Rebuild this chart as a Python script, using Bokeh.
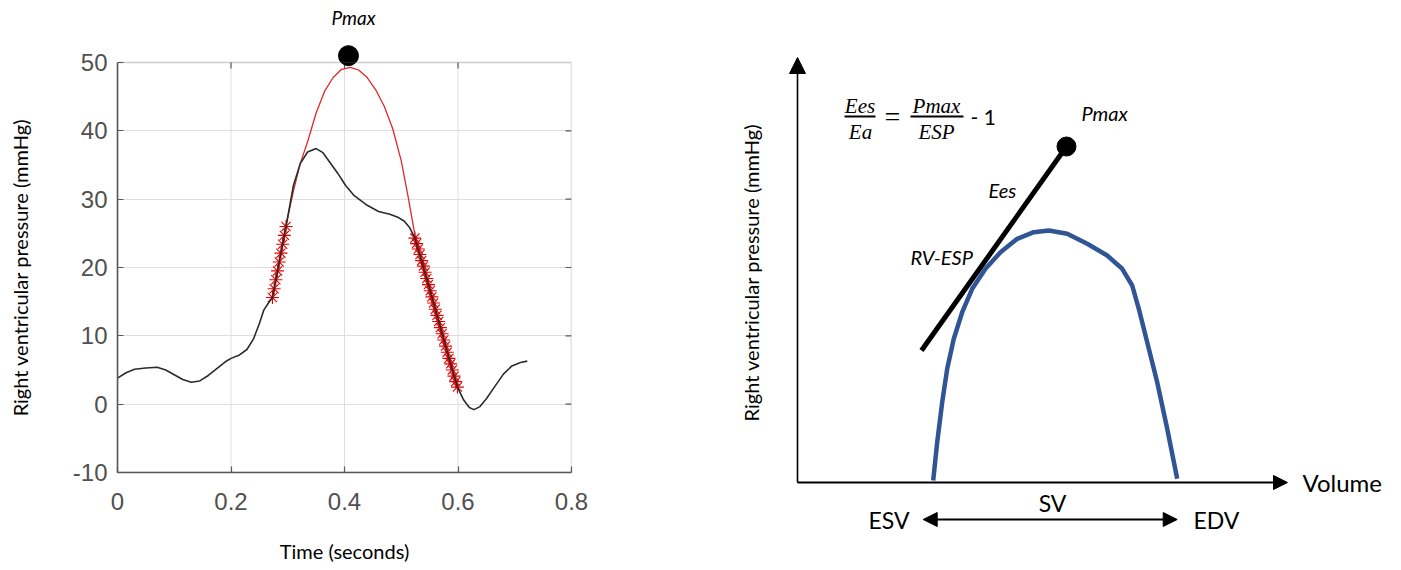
import math
from bokeh.plotting import figure
from bokeh.layouts import row
from bokeh.models import Range1d, FixedTicker, Arrow, NormalHead, BoxAnnotation
from bokeh.core.properties import value
from bokeh.embed import file_html
from bokeh.resources import INLINE

# ---------------- Left panel data (pressure trace) ----------------
time_s = [0.000, 0.015, 0.030, 0.050, 0.070, 0.085, 0.100, 0.115, 0.130, 0.145,
          0.160, 0.175, 0.190, 0.200, 0.215, 0.228, 0.240, 0.250, 0.258, 0.266,
          0.273, 0.285, 0.297, 0.310, 0.322, 0.335, 0.350, 0.362, 0.375, 0.388,
          0.402, 0.416, 0.440, 0.460, 0.480, 0.495, 0.505, 0.515, 0.524, 0.545,
          0.565, 0.585, 0.599, 0.610, 0.620, 0.628, 0.638, 0.650, 0.665, 0.680,
          0.695, 0.710, 0.722]
pressure = [3.8, 4.6, 5.1, 5.3, 5.4, 5.0, 4.3, 3.6, 3.2, 3.4,
            4.2, 5.2, 6.2, 6.7, 7.2, 8.0, 9.6, 11.8, 13.8, 14.8,
            15.6, 20.8, 26.0, 32.0, 35.2, 36.9, 37.4, 36.8, 35.3, 33.8,
            32.0, 30.6, 29.1, 28.2, 27.8, 27.3, 26.8, 25.8, 24.3, 18.4,
            12.5, 6.5, 2.5, 0.6, -0.5, -0.8, -0.4, 0.8, 2.6, 4.4,
            5.6, 6.1, 6.3]

fit_t = [0.273, 0.285, 0.297, 0.310, 0.322, 0.335, 0.350, 0.365, 0.380, 0.395,
         0.410, 0.425, 0.440, 0.455, 0.470, 0.485, 0.500, 0.512, 0.524, 0.540,
         0.560, 0.580, 0.599]
fit_p = [15.6, 21.0, 26.2, 31.2, 35.2, 38.4, 42.6, 45.8, 47.8, 49.0,
         49.3, 48.9, 47.8, 46.0, 43.6, 40.3, 35.6, 30.4, 24.8, 19.2,
         13.2, 7.6, 2.5]

stars_up_t = [0.273, 0.276, 0.279, 0.282, 0.285, 0.288, 0.291, 0.294, 0.297]
stars_up_p = [15.6, 16.9, 18.2, 19.5, 20.8, 22.1, 23.4, 24.7, 26.0]

stars_down_t = [0.524, 0.527, 0.530, 0.533, 0.536, 0.539, 0.542, 0.545, 0.548,
                0.551, 0.554, 0.557, 0.560, 0.563, 0.566, 0.569, 0.572, 0.575,
                0.578, 0.581, 0.584, 0.587, 0.590, 0.593, 0.596, 0.599]
stars_down_p = [24.3, 23.5, 22.7, 21.9, 21.0, 20.2, 19.3, 18.4, 17.5,
                16.6, 15.7, 14.8, 13.9, 13.0, 12.1, 11.2, 10.3, 9.4,
                8.5, 7.6, 6.7, 5.9, 5.0, 4.1, 3.3, 2.5]

pmax_t = [0.407]
pmax_p = [51.0]

x_ticks = [0, 0.2, 0.4, 0.6, 0.8]
x_tick_labels = ["0", "0.2", "0.4", "0.6", "0.8"]
y_ticks = [-10, 0, 10, 20, 30, 40, 50]
y_tick_labels = ["-10", "0", "10", "20", "30", "40", "50"]

# ---------------- Right panel data (schematic PV loop, arbitrary units) ----------------
pv_volume = [135.7, 139.7, 144.7, 149.7, 156.3, 164.7, 174.7, 188.0, 203.0, 219.7, 236.3,
             251.3, 269.7, 289.7, 309.7, 324.7, 334.7, 341.3, 349.7, 359.7, 369.7, 379.7]
pv_pressure = [2.0, 40.3, 80.3, 113.7, 143.7, 170.3, 193.7, 213.7, 230.3, 243.7, 250.3,
               252.0, 248.7, 238.7, 227.0, 213.7, 197.0, 173.7, 140.3, 100.3, 53.7, 3.7]

ees_volume = [124, 269]
ees_pressure = [132, 336]

AXIS_COLOR = "#5a5a5a"
GRID_COLOR = "#dedede"
TICK_FONT = "Liberation Sans"
LABEL_FONT = "Lato"

# ================= LEFT FIGURE =================
p1 = figure(frame_width=454, frame_height=464,
            x_range=Range1d(0, 0.8), y_range=Range1d(-10, 57.9),
            output_backend="svg", toolbar_location=None,
            min_border_left=77, min_border_right=47,
            min_border_top=8, min_border_bottom=92,
            outline_line_color=None, background_fill_color="white")

p1.xaxis.ticker = FixedTicker(ticks=x_ticks)
p1.yaxis.ticker = FixedTicker(ticks=y_ticks)
p1.xaxis.major_label_overrides = {t: l for t, l in zip(x_ticks, x_tick_labels)}
p1.yaxis.major_label_overrides = {t: l for t, l in zip(y_ticks, y_tick_labels)}
p1.yaxis.bounds = (y_ticks[0], y_ticks[-1])

for ax in [p1.xaxis[0], p1.yaxis[0]]:
    ax.axis_line_color = AXIS_COLOR
    ax.axis_line_width = 1.6
    ax.major_tick_line_color = AXIS_COLOR
    ax.major_tick_line_width = 1.2
    ax.major_tick_in = 6
    ax.major_tick_out = 0
    ax.minor_tick_in = 0
    ax.minor_tick_out = 0
    ax.major_label_text_font = TICK_FONT
    ax.major_label_text_font_size = "24px"
    ax.major_label_text_color = "#505050"
    ax.axis_label_text_font = LABEL_FONT
    ax.axis_label_text_font_size = "20px"
    ax.axis_label_text_font_style = "normal"
    ax.axis_label_text_color = "black"

p1.xaxis.axis_label = "Time (seconds)"
p1.xaxis.major_label_standoff = 20
p1.xaxis.axis_label_standoff = 26
p1.yaxis.major_label_standoff = 10

# MATLAB-like box around the axes
p1.add_layout(BoxAnnotation(left=x_ticks[0], right=x_ticks[-1], bottom=y_ticks[0], top=y_ticks[-1],
                            fill_color=None, line_color=AXIS_COLOR, line_width=1.6))
# inward ticks on the right and top edges of the box
tick_dx = 0.0105
tick_dy = 0.88
inner_y = [t for t in y_ticks if y_ticks[0] < t < y_ticks[-1]]
inner_x = [t for t in x_ticks if x_ticks[0] < t < x_ticks[-1]]
p1.segment(x0=[x_ticks[-1] - tick_dx] * len(inner_y), y0=inner_y,
           x1=[x_ticks[-1]] * len(inner_y), y1=inner_y, line_color=AXIS_COLOR, line_width=1.2)
p1.segment(x0=inner_x, y0=[y_ticks[-1] - tick_dy] * len(inner_x),
           x1=inner_x, y1=[y_ticks[-1]] * len(inner_x), line_color=AXIS_COLOR, line_width=1.2)

# grid
p1.xgrid.visible = False
p1.ygrid.ticker = FixedTicker(ticks=inner_y)
p1.ygrid.grid_line_color = GRID_COLOR
p1.ygrid.grid_line_width = 1
p1.segment(x0=inner_x, y0=[y_ticks[0]] * len(inner_x), x1=inner_x, y1=[y_ticks[-1]] * len(inner_x),
           line_color=GRID_COLOR, line_width=1, level="underlay")

# curves
p1.line(fit_t, fit_p, line_color="#e02828", line_width=1.3)
p1.scatter(stars_up_t, stars_up_p, marker="asterisk", size=13, line_color="#e80000", line_width=1.1)
p1.scatter(stars_down_t, stars_down_p, marker="asterisk", size=13, line_color="#e80000", line_width=1.1)
p1.line(time_s, pressure, line_color="#2b2b2b", line_width=1.6)

p1.scatter(pmax_t, pmax_p, size=20, fill_color="black", line_color="black")
p1.text(x=[0.416], y=[56.6], text=["Pmax"], text_font=value(LABEL_FONT),
        text_font_size="19px", text_font_style="italic", text_color="black",
        text_align="center", text_baseline="middle")

# strip holding the left y-axis title, centred on the boxed region (-10 .. 50)
p0 = figure(frame_width=40, frame_height=464, x_range=Range1d(0, 40), y_range=p1.y_range,
            x_axis_type=None, y_axis_type=None, output_backend="svg", toolbar_location=None,
            min_border=0, min_border_top=8, outline_line_color=None)
p0.grid.visible = False
p0.text(x=[19.5], y=[(y_ticks[0] + y_ticks[-1]) / 2], text=["Right ventricular pressure (mmHg)"],
        text_font=value(LABEL_FONT), text_font_size="20px", text_color="black",
        text_align="center", text_baseline="middle", angle=math.pi / 2)

# ================= RIGHT FIGURE =================
p2 = figure(frame_width=775, frame_height=554,
            x_range=Range1d(-179, 596), y_range=Range1d(-80, 474),
            x_axis_type=None, y_axis_type=None,
            output_backend="svg", toolbar_location=None,
            min_border=0, min_border_top=8, outline_line_color=None)
p2.grid.visible = False

p2.add_layout(Arrow(end=NormalHead(size=16, fill_color="black", line_color="black", line_width=1),
                    x_start=0, y_start=0, x_end=0, y_end=425, line_width=1.6, line_color="black"))
p2.add_layout(Arrow(end=NormalHead(size=14, fill_color="black", line_color="black", line_width=1),
                    x_start=0, y_start=0, x_end=490, y_end=0, line_width=2, line_color="black"))
p2.add_layout(Arrow(start=NormalHead(size=14, fill_color="black", line_color="black", line_width=1),
                    end=NormalHead(size=14, fill_color="black", line_color="black", line_width=1),
                    x_start=pv_volume[0] - 10, y_start=-37, x_end=pv_volume[-1], y_end=-37,
                    line_width=2, line_color="black"))

p2.line(pv_volume, pv_pressure, line_color="#2F5597", line_width=4.5,
        line_join="round", line_cap="butt")
p2.line(ees_volume, ees_pressure, line_color="black", line_width=5)
p2.scatter([ees_volume[-1]], [ees_pressure[-1]], size=19, fill_color="black", line_color="black")


def txt(x, y, s, size, align="left", style="normal", font=LABEL_FONT, angle=0.0):
    p2.text(x=[x], y=[y], text=[s], text_font=value(font), text_font_size=value(size),
            text_font_style=style, text_color="black", text_align=align,
            text_baseline="middle", angle=angle)


txt(505, 0, "Volume", "24px")
txt(112, -37, "ESV", "23px", align="right")
txt(396, -37, "EDV", "23px")
txt(255, -20, "SV", "23px", align="center")
txt(284, 370, "Pmax", "20px", style="italic")
txt(191, 293, "Ees", "20px", style="italic")
txt(113, 226, "RV-ESP", "20px", style="italic")
txt(-47, 210, "Right ventricular pressure (mmHg)", "20px", align="center", angle=math.pi / 2)

# formula Ees/Ea = Pmax/ESP - 1
SERIF = "Liberation Serif"
txt(62.5, 377, "Ees", "21px", align="center", style="italic", font=SERIF)
txt(63, 351, "Ea", "21px", align="center", style="italic", font=SERIF)
txt(95, 366, "=", "28px", align="center", font=SERIF)
txt(139, 377, "Pmax", "21px", align="center", style="italic", font=SERIF)
txt(139, 351, "ESP", "21px", align="center", style="italic", font=SERIF)
txt(173, 366, "- 1", "21px")
p2.segment(x0=[47, 113], y0=[366, 366], x1=[78, 166], y1=[366, 366], line_color="black", line_width=2)

layout = row(p0, p1, p2)
open("out.html", "w").write(file_html(layout, INLINE))
